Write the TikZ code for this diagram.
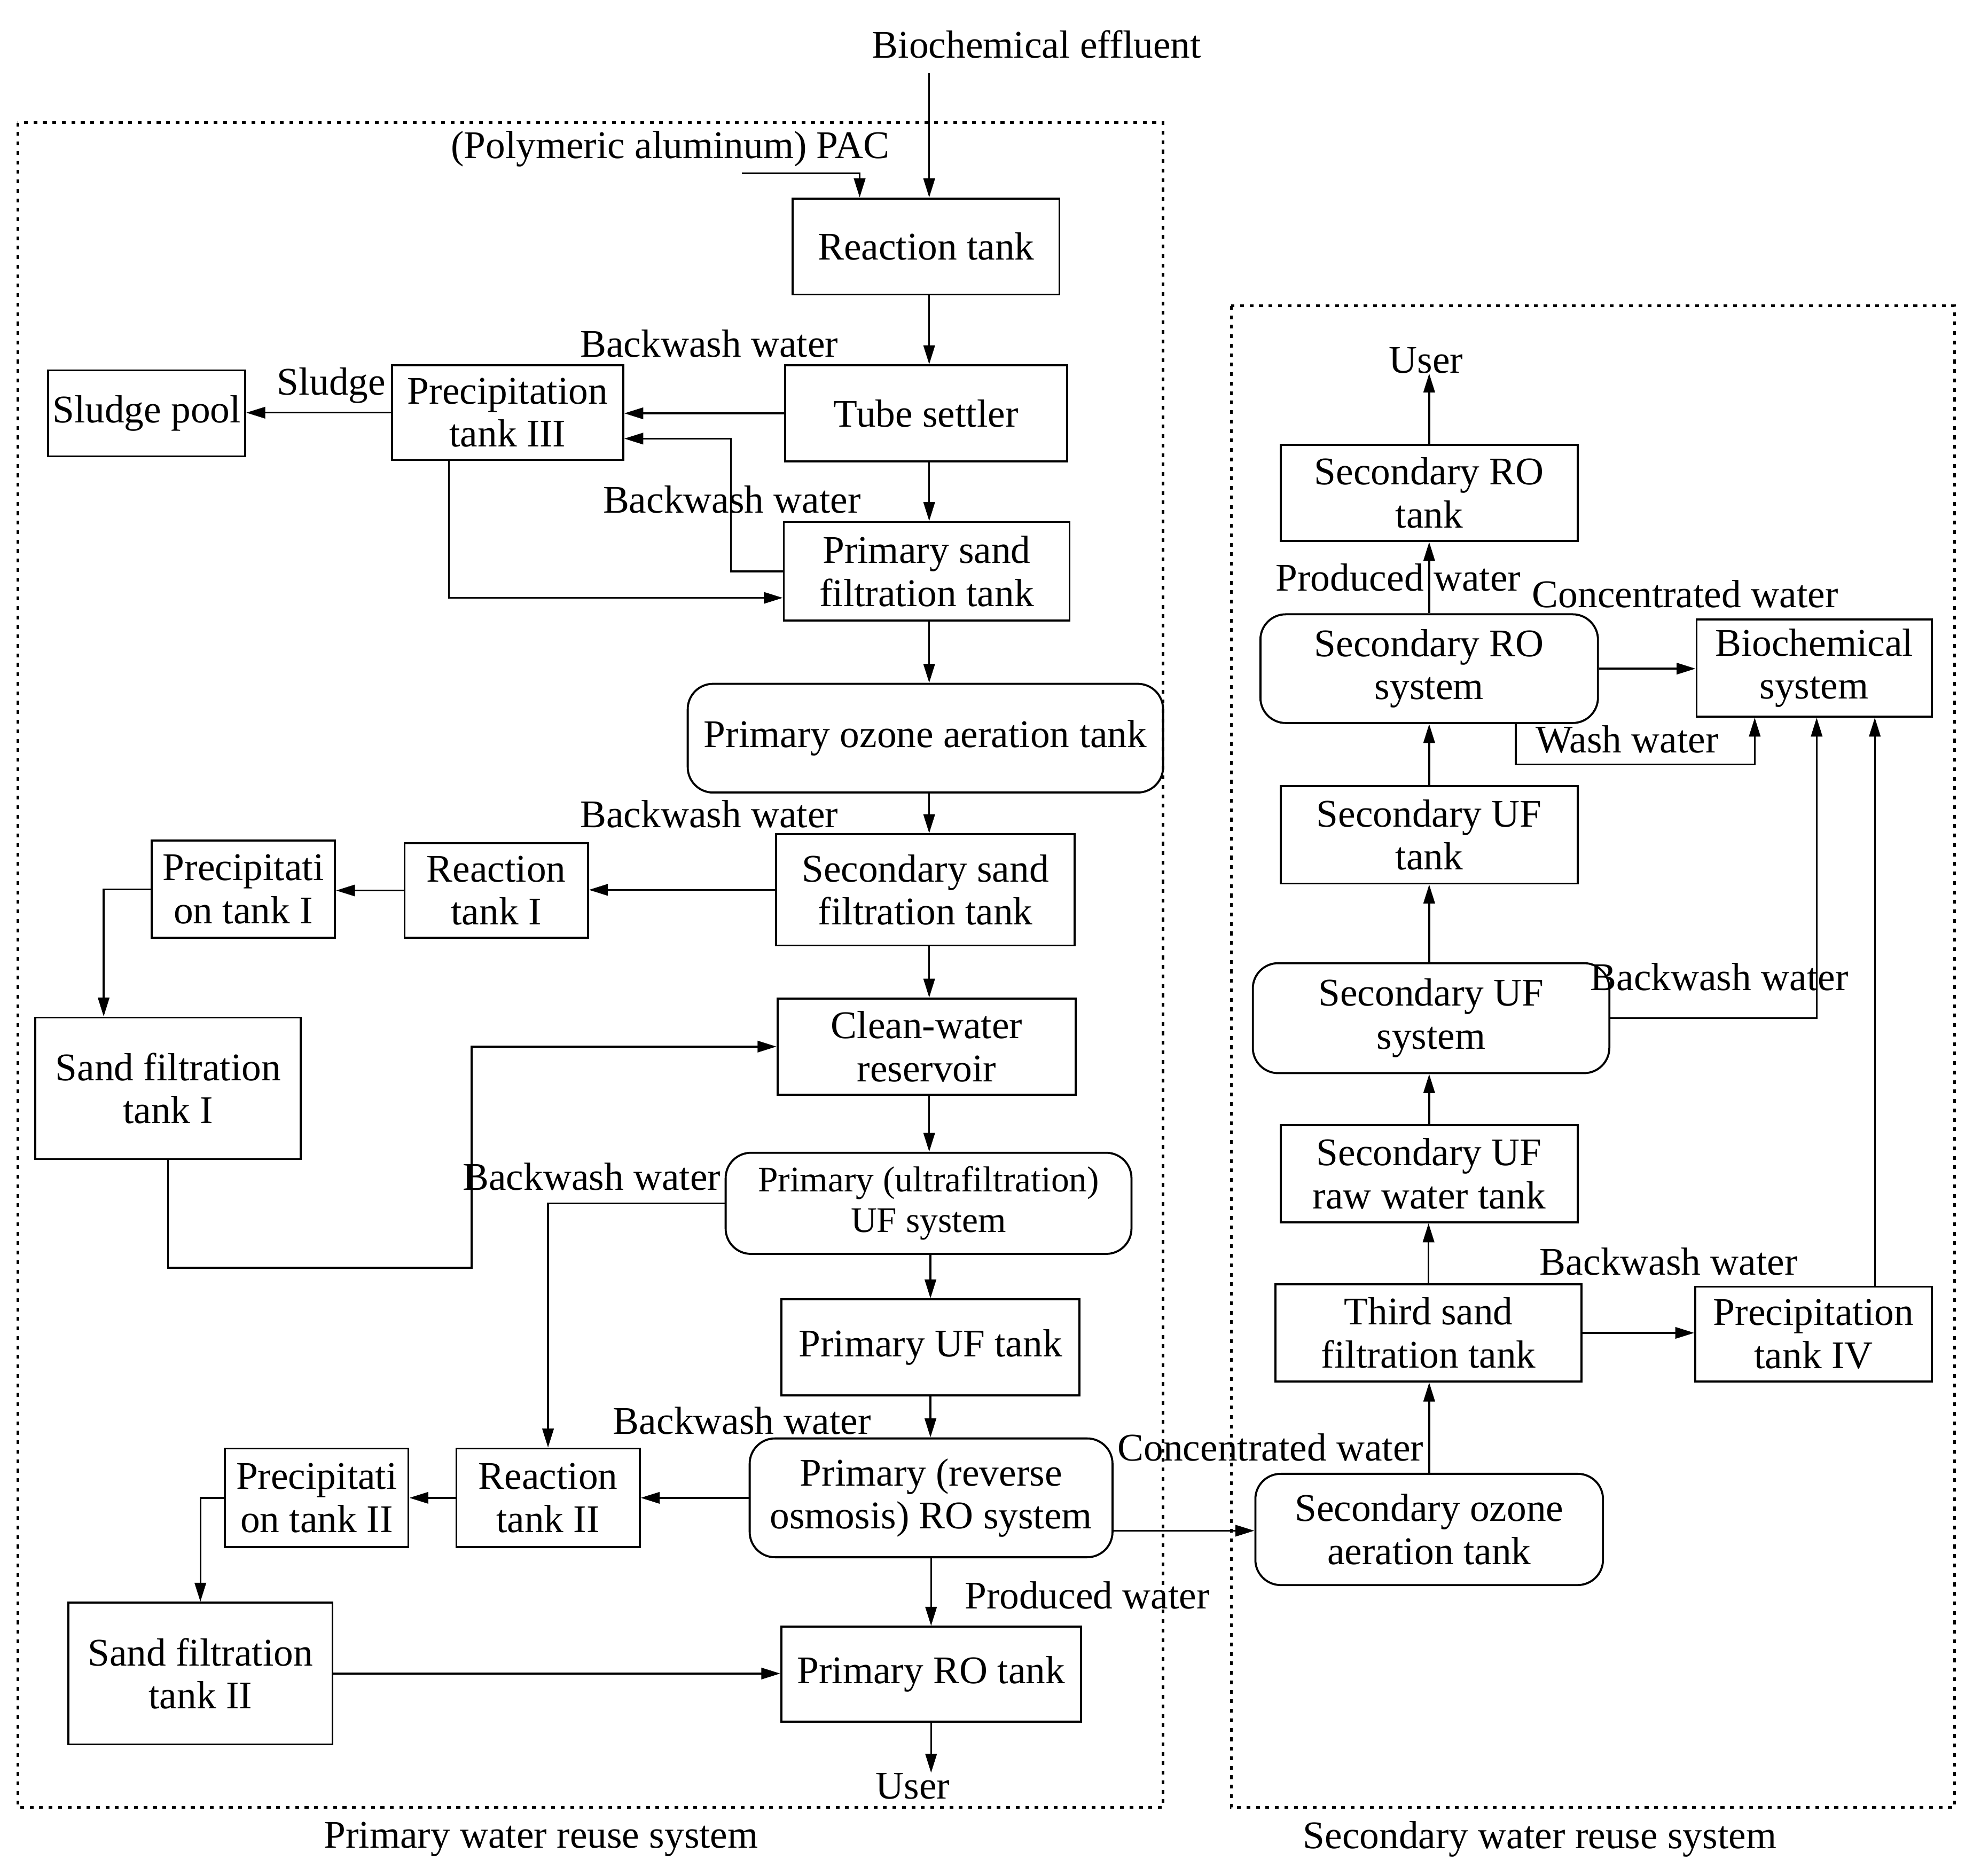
\documentclass[tikz,border=0pt]{standalone}
\usepackage{fontspec}
\setmainfont{Liberation Serif}
\usetikzlibrary{arrows.meta}
\newcommand\fs{\fontsize{31}{34}\selectfont}
\newcommand\fss{\fontsize{28.5}{32}\selectfont}
\tikzset{
  box/.style={draw, line width=1.6pt, align=center, inner sep=0pt, font=\fs},
  rbox/.style={box, rounded corners=20pt},
  lbl/.style={inner sep=0pt, font=\fs},
  arr/.style={line width=1.4pt, -{Triangle[length=15pt,width=9pt]}},
  dotbox/.style={draw, line width=2pt, dash pattern=on 3pt off 4.5pt},
}
\begin{document}
\begin{tikzpicture}[x=1pt,y=-1pt]
\useasboundingbox (0,0) rectangle (1567,1483.8);
% dotted system frames
\draw[dotbox] (14,97) rectangle (920,1430);
\draw[dotbox] (974,242) rectangle (1546,1430);
% primary system nodes
\node[box,minimum width=211,minimum height=76] (RT) at (732.5,195) {Reaction tank};
\node[box,minimum width=223,minimum height=76] (TS) at (732.5,327) {Tube settler};
\node[box,minimum width=183,minimum height=75] (P3) at (401.5,326.5) {Precipitation\\tank III};
\node[box,minimum width=156,minimum height=68] (SP) at (116,327) {Sludge pool};
\node[box,minimum width=226,minimum height=78] (PS) at (733,452) {Primary sand\\filtration tank};
\node[rbox,minimum width=376,minimum height=86] (OZ) at (732,584) {Primary ozone aeration tank};
\node[box,minimum width=236,minimum height=88] (SS) at (732,704) {Secondary sand\\filtration tank};
\node[box,minimum width=145,minimum height=75] (R1) at (392.5,704.5) {Reaction\\tank I};
\node[box,minimum width=145,minimum height=77] (P1) at (192.5,703.5) {Precipitati\\on tank I};
\node[box,minimum width=210,minimum height=112] (S1) at (133,861) {Sand filtration\\tank I};
\node[box,minimum width=236,minimum height=76] (CW) at (733,828) {Clean-water\\reservoir};
\node[rbox,minimum width=321,minimum height=80,font=\fss] (UF) at (734.5,952) {Primary (ultrafiltration)\\UF system};
\node[box,minimum width=236,minimum height=76] (UT) at (736,1066) {Primary UF tank};
\node[rbox,minimum width=287,minimum height=94] (RO) at (736.5,1185) {Primary (reverse\\osmosis) RO system};
\node[box,minimum width=145,minimum height=78] (R2) at (433.5,1185) {Reaction\\tank II};
\node[box,minimum width=145,minimum height=78] (P2) at (250.5,1185) {Precipitati\\on tank II};
\node[box,minimum width=209,minimum height=112] (S2) at (158.5,1324) {Sand filtration\\tank II};
\node[box,minimum width=237,minimum height=75] (ROT) at (736.5,1324.5) {Primary RO tank};
% secondary system nodes
\node[rbox,minimum width=275,minimum height=88] (SO) at (1130.5,1210) {Secondary ozone\\aeration tank};
\node[box,minimum width=242,minimum height=77] (TS3) at (1130,1054.5) {Third sand\\filtration tank};
\node[box,minimum width=187,minimum height=75] (P4) at (1434.5,1055.5) {Precipitation\\tank IV};
\node[box,minimum width=235,minimum height=77] (URW) at (1130.5,928.5) {Secondary UF\\raw water tank};
\node[rbox,minimum width=282,minimum height=87] (SUF) at (1132,805.5) {Secondary UF\\system};
\node[box,minimum width=235,minimum height=77] (SUT) at (1130.5,660.5) {Secondary UF\\tank};
\node[rbox,minimum width=267,minimum height=86] (SRO) at (1130.5,529) {Secondary RO\\system};
\node[box,minimum width=186,minimum height=77] (BS) at (1435,528.5) {Biochemical\\system};
\node[box,minimum width=235,minimum height=76] (SRT) at (1130.5,390) {Secondary RO\\tank};
% labels
\node[lbl] (effl) at (820,35) {Biochemical effluent};
\node[lbl] (pac) at (530,118) {(Polymeric aluminum) PAC};
\node[lbl] (bw1) at (561,272) {Backwash water};
\node[lbl] (sl) at (262,305) {Sludge};
\node[lbl] (bw2) at (579,395) {Backwash water};
\node[lbl] (bw3) at (561,644) {Backwash water};
\node[lbl] (bw4) at (468,931) {Backwash water};
\node[lbl] (bw5) at (587,1124) {Backwash water};
\node[lbl] (pw1) at (860,1262) {Produced water};
\node[lbl] (user1) at (722,1413) {User};
\node[lbl] (cw1) at (1005,1145) {Concentrated water};
\node[lbl] (sys1) at (428,1455) {Primary water reuse system};
\node[lbl] (sys2) at (1218,1455) {Secondary water reuse system};
\node[lbl] (user2) at (1128,285) {User};
\node[lbl] (pw2) at (1106,457) {Produced water};
\node[lbl] (cw2) at (1333,470) {Concentrated water};
\node[lbl] (ww) at (1287,585) {Wash water};
\node[lbl] (bw6) at (1360,773) {Backwash water};
\node[lbl] (bw7) at (1320,998) {Backwash water};
% connectors, primary
\coordinate (effin) at (735,58);
\coordinate (pacin) at (587,137);
\draw[arr] (effin) -- (effin |- RT.north);
\draw[arr] (pacin) -| ([xshift=-52.5pt]RT.north);
\draw[arr] (effin |- RT.south) -- (effin |- TS.north);
\draw[arr] (effin |- TS.south) -- (effin |- PS.north);
\draw[arr] (effin |- PS.south) -- (effin |- OZ.north);
\draw[arr] (effin |- OZ.south) -- (effin |- SS.north);
\draw[arr] (effin |- SS.south) -- (effin |- CW.north);
\draw[arr] (effin |- CW.south) -- (effin |- UF.north);
\draw[arr] (UT.north |- UF.south) -- (UT.north);
\draw[arr] (UT.south) -- (UT.south |- RO.north);
\draw[arr] (RO.south) -- (RO.south |- ROT.north);
\draw[arr] (ROT.south) -- (ROT.south |- user1.north);
\draw[arr] (TS.west) -- (TS.west -| P3.east);
\draw[arr] (P3.west) -- (P3.west -| SP.east);
\draw[arr] (PS.west) -- ++(-41,0) |- ([yshift=-20.5pt]P3.east);
\draw[arr] ([xshift=-46.5pt]P3.south) |- ([yshift=-21pt]PS.west);
\draw[arr] (SS.west) -- (SS.west -| R1.east);
\draw[arr] (R1.west) -- (R1.west -| P1.east);
\draw[arr] (P1.west) -| ([xshift=-51pt]S1.north);
\coordinate (j1) at (373,1003);
\draw[arr] (S1.south) |- (j1) |- (CW.west);
\draw[arr] (UF.west) -| (R2.north);
\draw[arr] (RO.west) -- (RO.west -| R2.east);
\draw[arr] (R2.west) -- (R2.west -| P2.east);
\draw[arr] (P2.west) -| (S2.north);
\draw[arr] (S2.east) -- (S2.east -| ROT.west);
\draw[arr] ([yshift=-26pt]RO.east) -- ([yshift=-26pt]RO.east -| SO.west);
% connectors, secondary
\draw[arr] (SO.north) -- (SO.north |- TS3.south);
\draw[arr] (TS3.east) -- (TS3.east -| P4.west);
\draw[arr] ([xshift=48.5pt]P4.north) -- ([xshift=48.5pt]P4.north |- BS.south);
\draw[arr] (TS3.north) -- (TS3.north |- URW.south);
\draw[arr] (URW.north) -- (URW.north |- SUF.south);
\draw[arr] (URW.north |- SUF.north) -- (URW.north |- SUT.south);
\draw[arr] (SUT.north) -- (SUT.north |- SRO.south);
\draw[arr] (SRO.east) -- (SRO.east -| BS.west);
\draw[arr] ([xshift=68.5pt]SRO.south) -- ++(0,32) -| ([xshift=-47pt]BS.south);
\draw[arr] (SUF.east) -| ([xshift=2pt]BS.south);
\draw[arr] (SRO.north) -- (SRO.north |- SRT.south);
\draw[arr] (SRT.north) -- (SRT.north |- user2.south);
\end{tikzpicture}
\end{document}
